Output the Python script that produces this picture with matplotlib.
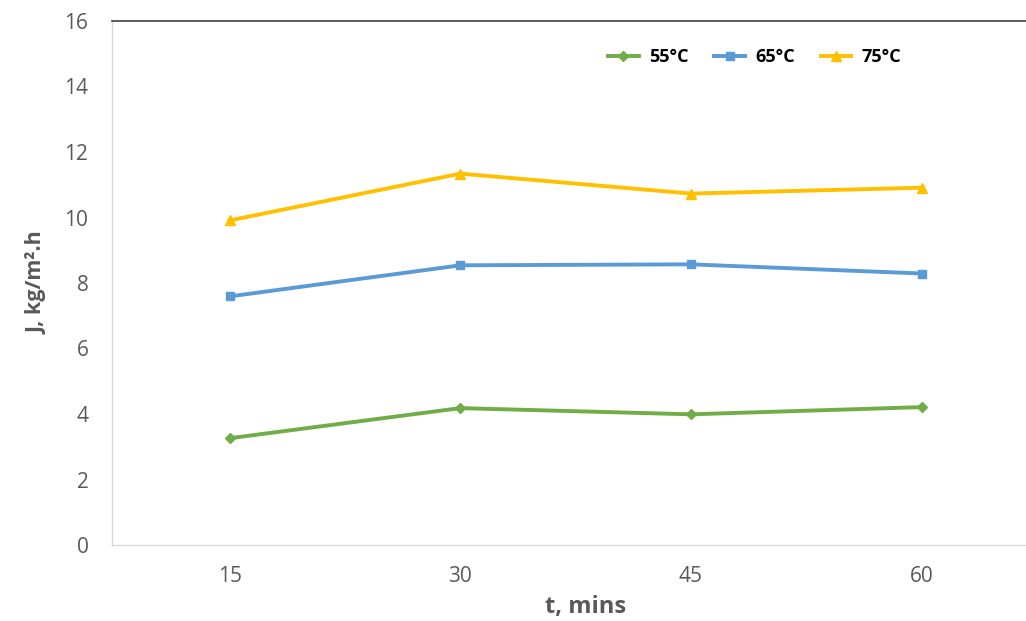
import matplotlib
matplotlib.use("Agg")
from matplotlib import pyplot as plt

# data
times = ["15", "30", "45", "60"]
j_55 = [3.26, 4.18, 3.99, 4.21]
j_65 = [7.59, 8.54, 8.57, 8.29]
j_75 = [9.91, 11.34, 10.73, 10.91]
labels = ["55°C", "65°C", "75°C"]

plt.rcParams['font.family'] = ['Open Sans', 'DejaVu Sans']

fig = plt.figure(figsize=(10.26, 6.21), dpi=100)
# plot area runs a little past the right edge, like the cropped original
ax = fig.add_axes([112 / 1026, 1 - 545 / 621, (1060 - 112) / 1026, (545 - 21) / 621])

x = list(range(len(times)))
series = [j_55, j_65, j_75]
colors = ['#70AD47', '#5B9BD5', '#FFC000']
markers = ['D', 's', '^']
msizes = [5, 6, 7]

for vals, c, m, ms, lab in zip(series, colors, markers, msizes, labels):
    ax.plot(x, vals, color=c, marker=m, markersize=ms, linewidth=2.8,
            label=lab, solid_joinstyle='round')

ax.set_xlim(-0.51, 3.60)
ax.set_ylim(0, 16)
ax.set_yticks(range(0, 17, 2))
ax.set_xticks(x)
ax.set_xticklabels(times)
ax.tick_params(length=0, labelsize=15, colors='#595959')
ax.tick_params(axis='x', pad=15)
ax.tick_params(axis='y', pad=17)

for side in ['left', 'bottom']:
    ax.spines[side].set_color('#D9D9D9')
    ax.spines[side].set_linewidth(1.0)
ax.spines['top'].set_color('#404040')
ax.spines['top'].set_linewidth(1.2)
ax.spines['right'].set_visible(False)

ax.set_xlabel('t, mins', fontsize=17, fontweight='bold', color='#595959', labelpad=6)
ax.set_ylabel('J, kg/m².h', fontsize=15.5, fontweight='bold', color='#595959', labelpad=12)

leg = fig.legend(loc='center', bbox_to_anchor=(0.7354, 0.908), ncol=3, frameon=False,
                 fontsize=13, handlelength=1.7, columnspacing=1.45, handletextpad=0.55)
for t in leg.get_texts():
    t.set_fontweight('bold')

fig.savefig('out.png', dpi=100)
